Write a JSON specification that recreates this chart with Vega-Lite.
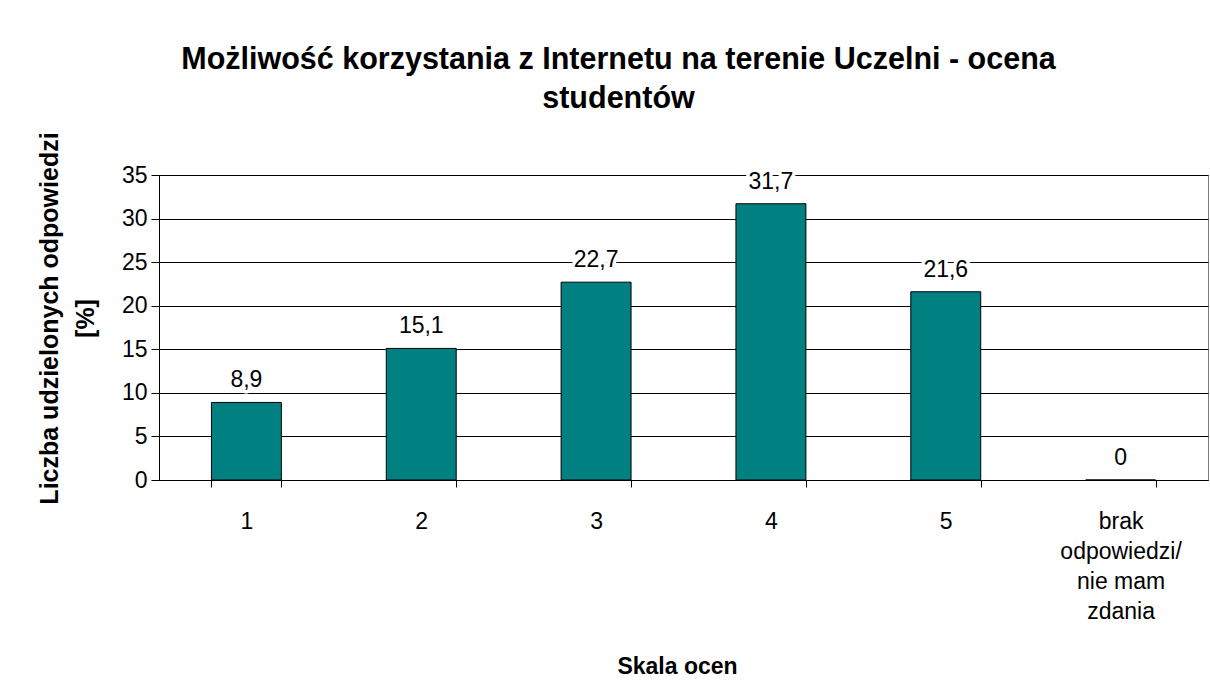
{
  "$schema": "https://vega.github.io/schema/vega-lite/v6.json",
  "width": 1049,
  "height": 305,
  "autosize": {"type": "none"},
  "padding": {"left": 159, "top": 175, "right": 2, "bottom": 215},
  "background": "white",
  "title": {
    "text": ["Możliwość korzystania z Internetu na terenie Uczelni - ocena", "studentów"],
    "fontSize": 30.5,
    "fontWeight": "bold",
    "font": "Liberation Sans",
    "color": "black",
    "anchor": "middle",
    "frame": "group",
    "dx": -65,
    "lineHeight": 39,
    "offset": 17
  },
  "data": {
    "values": [
      {"ocena": "1", "wartosc": 8.9, "etykieta": "8,9"},
      {"ocena": "2", "wartosc": 15.1, "etykieta": "15,1"},
      {"ocena": "3", "wartosc": 22.7, "etykieta": "22,7"},
      {"ocena": "4", "wartosc": 31.7, "etykieta": "31,7"},
      {"ocena": "5", "wartosc": 21.6, "etykieta": "21,6"},
      {"ocena": "brak odpowiedzi/ nie mam zdania", "wartosc": 0, "etykieta": "0"}
    ]
  },
  "encoding": {
    "x": {
      "field": "ocena",
      "type": "nominal",
      "sort": null,
      "scale": {"paddingInner": 0.6, "paddingOuter": 0.3},
      "axis": {
        "title": "Skala ocen",
        "labelAngle": 0,
        "labelFontSize": 23,
        "labelColor": "black",
        "labelLineHeight": 30,
        "labelPadding": 23,
        "labelExpr": "datum.value == 'brak odpowiedzi/ nie mam zdania' ? ['brak', 'odpowiedzi/', 'nie mam', 'zdania'] : datum.label",
        "tickBand": "extent",
        "tickSize": 7,
        "tickColor": "black",
        "domainColor": "black",
        "titleFontSize": 23,
        "titleFontWeight": "bold",
        "titleColor": "black",
        "titleX": 518,
        "titleY": 193,
        "titleBaseline": "alphabetic",
        "titleAlign": "center"
      }
    },
    "y": {
      "field": "wartosc",
      "type": "quantitative",
      "scale": {"domain": [0, 35], "nice": false},
      "axis": {
        "title": ["Liczba udzielonych odpowiedzi", "[%]"],
        "values": [0, 5, 10, 15, 20, 25, 30, 35],
        "labelFontSize": 23,
        "labelColor": "black",
        "labelPadding": 4,
        "tickSize": 8,
        "tickColor": "black",
        "domainColor": "black",
        "grid": true,
        "gridColor": "black",
        "gridOpacity": 1,
        "titleFontSize": 25,
        "titleFontWeight": "bold",
        "titleColor": "black",
        "titleLineHeight": 36,
        "titleX": -97,
        "titleY": 143,
        "titleBaseline": "bottom",
        "titleAlign": "center"
      }
    }
  },
  "layer": [
    {"mark": {"type": "bar", "color": "#008080", "stroke": "black", "strokeWidth": 1}},
    {
      "mark": {"type": "text", "baseline": "alphabetic", "dy": -15, "fontSize": 23, "stroke": "white", "strokeWidth": 7, "fill": "white", "strokeJoin": "round"},
      "encoding": {"text": {"field": "etykieta"}}
    },
    {
      "mark": {"type": "text", "baseline": "alphabetic", "dy": -15, "fontSize": 23, "color": "black"},
      "encoding": {"text": {"field": "etykieta"}}
    }
  ],
  "config": {
    "font": "Liberation Sans",
    "view": {"stroke": "#808080", "strokeWidth": 1}
  }
}
